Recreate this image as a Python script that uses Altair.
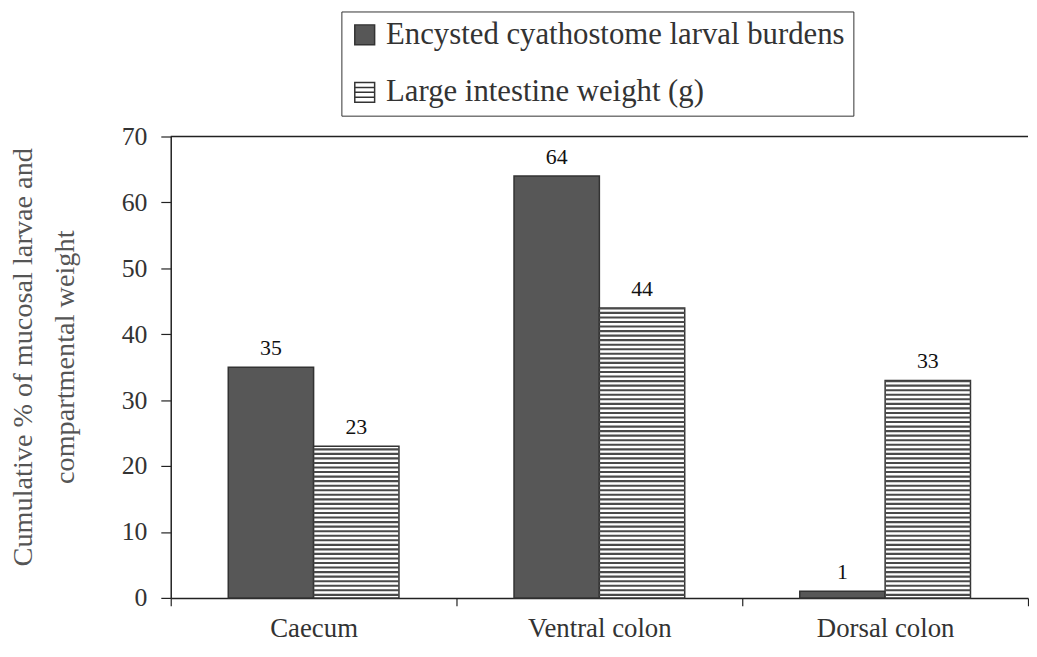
import altair as alt
import pandas as pd

categories = ["Caecum", "Ventral colon", "Dorsal colon"]
series_names = ["Encysted cyathostome larval burdens", "Large intestine weight (g)"]
larvae = [35, 64, 1]
weight = [23, 44, 33]
y_ticks = [0, 10, 20, 30, 40, 50, 60, 70]
y_title = ["Cumulative % of mucosal larvae and", "compartmental weight"]

rows = []
for c, a, b in zip(categories, larvae, weight):
    rows.append({"category": c, "series": series_names[0], "value": a})
    rows.append({"category": c, "series": series_names[1], "value": b})
df = pd.DataFrame(rows)
df_leg = pd.DataFrame({"series": series_names})
df_top = pd.DataFrame({"v": [y_ticks[-1]]})

FONT = "Liberation Serif"
DARK = "#575757"
EDGE = "#333333"

y_axis = alt.Axis(values=y_ticks, title=y_title, grid=False, tickSize=10,
                  labelFont=FONT, titleFont=FONT,
                  labelFontSize=26, labelPadding=14, labelColor="#333333",
                  titleFontSize=28.5, titleColor="#555555", titleFontWeight="normal",
                  titlePadding=42, titleLineHeight=42, titleY=222,
                  domainColor="#222222",
                  domainWidth=1.5, tickColor="#222222", tickWidth=1.2)
y_scale = alt.Scale(domain=[0, 70], nice=False, zero=True)

x_enc = alt.X("category:N", sort=categories,
              scale=alt.Scale(paddingInner=0, paddingOuter=0),
              axis=alt.Axis(title=None, labelAngle=0, tickBand="extent", tickSize=8,
                            labelFont=FONT, labelFontSize=27, labelPadding=10,
                            labelColor="#333333",
                            domainColor="#222222", domainWidth=1.5,
                            tickColor="#222222", tickWidth=1.2))
xo_enc = alt.XOffset("series:N", sort=series_names,
                     scale=alt.Scale(domain=series_names, paddingInner=0, paddingOuter=0.674))

base = alt.Chart(df)

bars = base.mark_bar(stroke=EDGE, strokeWidth=1.5).encode(
    x=x_enc, xOffset=xo_enc,
    y=alt.Y("value:Q", scale=y_scale, axis=y_axis),
    fill=alt.condition(alt.datum.series == series_names[0],
                       alt.value(DARK), alt.value("white")),
)

stripes = base.transform_filter(
    alt.datum.series == series_names[1]
).transform_calculate(
    s="sequence(0.3, datum.value - 0.1, 0.69)"
).transform_flatten(["s"]).transform_calculate(
    s2="min(datum.s + 0.32, datum.value)"
).mark_bar(color="#4a4a4a").encode(
    x=x_enc, xOffset=xo_enc,
    y=alt.Y("s:Q", scale=y_scale, axis=y_axis),
    y2="s2:Q",
)

labels = base.mark_text(font=FONT, fontSize=22, color="#111111",
                        baseline="alphabetic", dy=-12).encode(
    x=x_enc, xOffset=xo_enc,
    y=alt.Y("value:Q", scale=y_scale, axis=y_axis),
    text=alt.Text("value:Q"),
)

top_line = alt.Chart(df_top).mark_rule(color="#222222", strokeWidth=1.5).encode(
    y=alt.Y("v:Q", scale=y_scale, axis=y_axis)
)

sq = "M-1,-1H1V1H-1Z"
striped = "M-1,-1H1V1H-1Z M-1,-0.5H1 M-1,0H1 M-1,0.5H1"
leg = alt.Legend(title=None, orient="none", legendX=172, legendY=-126,
                 direction="vertical", strokeColor="#333333", fillColor="white",
                 padding=8, rowPadding=26, labelFont=FONT, labelFontSize=31,
                 labelColor="#333333", labelLimit=800, symbolSize=400,
                 symbolOpacity=1, labelOffset=6, symbolStrokeWidth=1.5)
legend_layer = alt.Chart(df_leg).mark_point(filled=True, opacity=0, stroke=EDGE,
                                            strokeWidth=1.5).encode(
    fill=alt.Fill("series:N", sort=series_names,
                  scale=alt.Scale(domain=series_names, range=[DARK, "white"]), legend=leg),
    shape=alt.Shape("series:N", sort=series_names,
                    scale=alt.Scale(domain=series_names, range=[sq, striped]), legend=leg),
)

chart = alt.layer(bars, stripes, labels, top_line, legend_layer).properties(
    width=864, height=465, autosize="none",
    padding={"left": 164, "top": 127, "right": 1, "bottom": 49},
    background="white",
).configure_view(stroke=None).configure_axis(
    labelFont=FONT, titleFont=FONT
).configure_legend(labelFont=FONT)

chart.save("out.html", embed_options={"renderer": "svg", "actions": False})
